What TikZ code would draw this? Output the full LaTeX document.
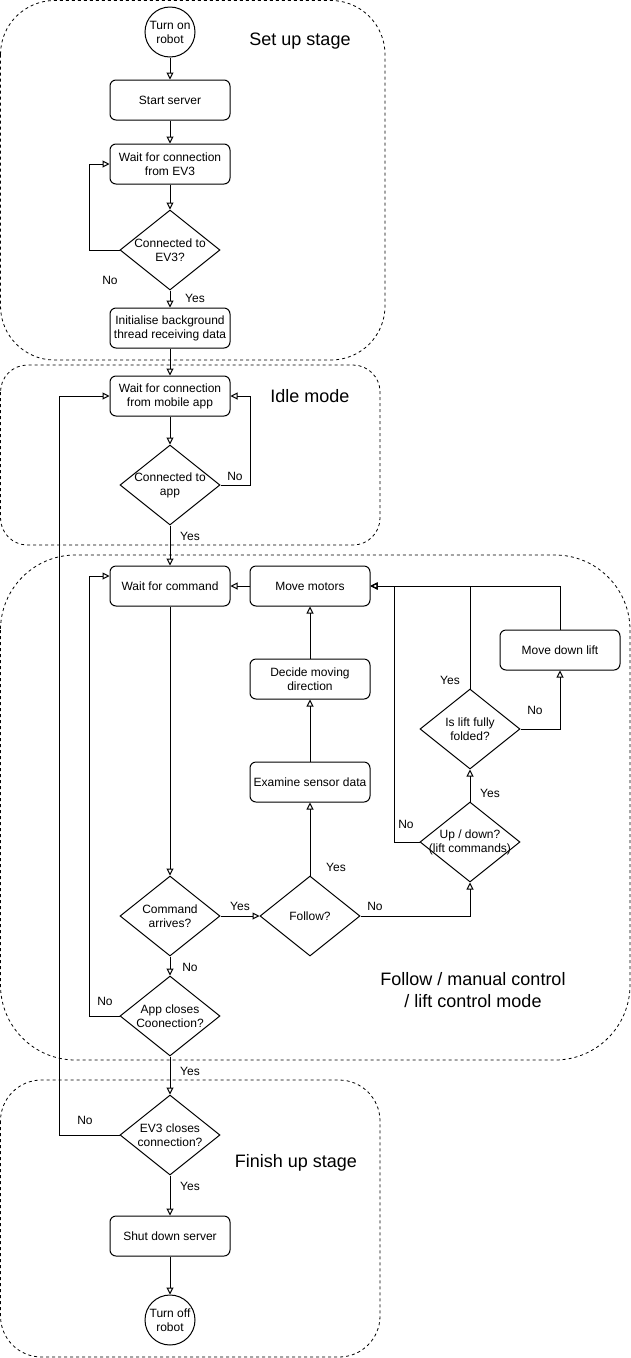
\documentclass[tikz,border=0pt]{standalone}
\usepackage{fontspec}
\setmainfont{Liberation Sans}
\usetikzlibrary{shapes.geometric,arrows.meta}
\begin{document}
\begin{tikzpicture}[x=1pt,y=-1pt,line width=1pt]
	\tikzset{txt/.style={font=\fontsize{12}{14}\selectfont,align=center,inner sep=0pt},
		box/.style={txt,draw,fill=white,rounded corners=6pt,minimum width=120pt,minimum height=40pt},
		dia/.style={draw,fill=white,diamond,aspect=1.25,minimum width=100pt,minimum height=80pt,inner sep=0pt},
		circ/.style={txt,draw,fill=white,circle,minimum size=50pt},
		arr/.style={-{Triangle[open,length=7pt,width=7pt]}},
		lab/.style={font=\fontsize{12}{14}\selectfont,inner sep=0pt},
		stage/.style={draw,dash pattern=on 3pt off 3pt,line width=0.8pt},
		title/.style={font=\fontsize{18}{22}\selectfont,align=center,inner sep=0pt}}
	\useasboundingbox(0,0)rectangle(631,1358);
	% stages
	\draw[stage,rounded corners=54pt](0.5,0.5)rectangle(385,360);
	\draw[stage,rounded corners=27pt](0.5,365)rectangle(380,545);
	\draw[stage,rounded corners=75pt](0.5,555)rectangle(630,1060);
	\draw[stage,rounded corners=41pt](0.5,1080)rectangle(380,1357);
	\node[title](tSet)at(300,41){Set up stage};
	\node[title](tIdle)at(310,396){Idle mode};
	\node[title](tFol)at(473,990){Follow / manual control\\ / lift control mode};
	\node[title](tFin)at(296,1163){Finish up stage};
	% steps
	\node[circ](on)at(170,32){Turn on\\robot};
	\node[box](start)at(170,100){Start server};
	\node[box](wEV)at(170,164){Wait for connection\\from EV3};
	\node[dia,label={[txt]center:Connected to\\EV3?}](cEV)at(170,250){};
	\node[box](init)at(170,328){Initialise background\\thread receiving data};
	\node[box](wApp)at(170,396){Wait for connection\\from mobile app};
	\node[dia,label={[txt]center:Connected to\\app}](cApp)at(170,485){};
	\node[box](wCmd)at(170,586){Wait for command};
	\node[dia,label={[txt]center:Command\\arrives?}](cmd)at(170,916){};
	\node[dia,label={[txt]center:Follow?}](follow)at(310,916){};
	\node[box](exam)at(310,782){Examine sensor data};
	\node[box](decide)at(310,679){Decide moving\\direction};
	\node[box](motors)at(310,586){Move motors};
	\node[dia,label={[txt]center:Up / down?\\(lift commands)}](updown)at(470,842){};
	\node[dia,label={[txt]center:Is lift fully\\folded?}](folded)at(470,729){};
	\node[box](down)at(560,650){Move down lift};
	\node[dia,label={[txt]center:App closes\\Coonection?}](appcl)at(170,1016){};
	\node[dia,label={[txt]center:EV3 closes\\connection?}](evcl)at(170,1135){};
	\node[box](shut)at(170,1236){Shut down server};
	\node[circ](off)at(170,1320){Turn off\\robot};
	% straight connectors
	\foreach \a/\b in{on/start,start/wEV,wEV/cEV,cEV/init,init/wApp,wApp/cApp,cApp/wCmd,wCmd/cmd,cmd/follow,cmd/appcl,follow/exam,exam/decide,decide/motors,motors/wCmd,updown/folded,appcl/evcl,evcl/shut,shut/off}
	\draw[arr](\a)--(\b);
	% loops and branches
	\draw[arr](cEV.west)--++(-30,0)|-(wEV.west);
	\draw[arr](cApp.east)--++(30,0)|-(wApp.east);
	\draw[arr](appcl.west)--++(-30,0)|-([yshift=10pt]wCmd.west);
	\draw[arr](evcl.west)--++(-60,0)|-(wApp.west);
	\draw[arr](follow.east)-|(updown.south);
	\draw[arr](updown.west)--++(-25,0)|-(motors.east);
	\draw[arr](folded.north)|-(motors.east);
	\draw[arr](folded.east)-|(down.south);
	\draw[arr](down.north)|-(motors.east);
	% yes / no
	\foreach \t/\x/\y [count=\i] in{No/110/280,Yes/195/298,No/235/476,Yes/190/536,Yes/240/906,No/190/967,No/105/1001,Yes/190/1071,No/85/1120,Yes/190/1186,Yes/336/867,No/375/906,No/406/824,Yes/490/793,Yes/450/680,No/535/710}
	\node[lab](yn\i)at(\x,\y){\t};
\end{tikzpicture}
\end{document}
